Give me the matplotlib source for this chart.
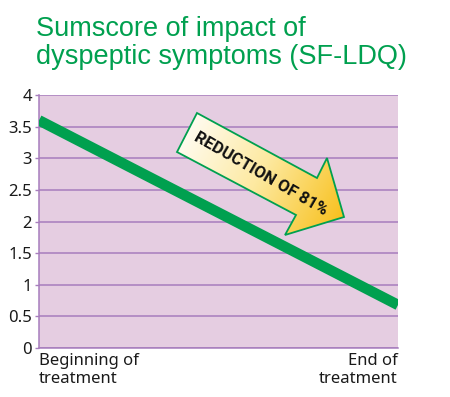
import numpy as np
import matplotlib
matplotlib.use("Agg")
import matplotlib.pyplot as plt
from matplotlib.patches import Polygon
from matplotlib.colors import LinearSegmentedColormap

# ---- data ----
categories = ["Beginning of\ntreatment", "End of\ntreatment"]
scores = [3.6, 0.68]
y_ticks = [0, 0.5, 1, 1.5, 2, 2.5, 3, 3.5, 4]
y_tick_labels = ["0", "0.5", "1", "1.5", "2", "2.5", "3", "3.5", "4"]
title = "Sumscore of impact of\ndyspeptic symptoms (SF-LDQ)"
arrow_label = "REDUCTION OF 81%"

GREEN = "#00a04f"
BG = "#e5cde1"
GRID = "#a77dbd"

fig = plt.figure(figsize=(4.5, 3.97), dpi=100)
ax = fig.add_axes([39/450, 1-348/397, 359/450, 253/397])
ax.set_facecolor(BG)

x = np.arange(len(categories))
ax.plot(x, scores, color=GREEN, lw=7.6, solid_capstyle="butt", zorder=3)

ax.set_xlim(0, 1)
ax.set_ylim(0, 4)
ax.set_yticks(y_ticks)
ax.set_yticklabels(y_tick_labels, fontsize=12, family=["Noto Sans", "DejaVu Sans"], color="#1a1a1a")
ax.yaxis.grid(True, color=GRID, lw=1.1)
ax.set_axisbelow(True)
ax.tick_params(axis="y", length=3, width=1, color=GRID, pad=2)
ax.tick_params(axis="x", length=0)
ax.set_xticks([])
for s in ["top", "right"]:
    ax.spines[s].set_visible(False)
ax.spines["left"].set_color(GRID)
ax.spines["bottom"].set_color(GRID)
ax.spines["left"].set_linewidth(1.1)
ax.spines["bottom"].set_linewidth(1.1)

# x category labels
lab_kw = dict(transform=ax.get_xaxis_transform(), va="top", fontsize=12,
              family=["Noto Sans", "DejaVu Sans"], color="#1a1a1a", linespacing=1.2)
ax.text(0, -0.018, categories[0], ha="left", **lab_kw)
ax.text(1, -0.018, categories[1], ha="right", multialignment="right", **lab_kw)

# title
fig.text(36/450, 1-16/397, title, ha="left", va="top", fontsize=19.5, color=GREEN,
         family=["Liberation Sans", "DejaVu Sans"], linespacing=1.12)

# ---- annotation arrow (axes fraction) ----
def px(xp, yp):
    return ((xp-39)/359, (348-yp)/253)

pts = [px(197, 113), px(317, 178), px(327, 158), px(344, 217), px(285, 235), px(296, 215), px(177, 152)]
poly = Polygon(pts, closed=True, transform=ax.transAxes, facecolor="none",
               edgecolor=GREEN, lw=1.3, zorder=6)
cmap = LinearSegmentedColormap.from_list("g", ["#ffffff", "#fde9a0", "#f7bd12"])
xs = np.array([p[0] for p in pts]); ys = np.array([p[1] for p in pts])
x0, x1, y0, y1 = xs.min(), xs.max(), ys.min(), ys.max()
gx, gy = np.meshgrid(np.linspace(0, 1, 200), np.linspace(0, 1, 200))
dxp, dyp = 157.0, 85.0
wpx, hpx = (x1-x0)*359, (y1-y0)*253
proj = (gx*wpx*dxp + gy*hpx*dyp)
proj = (proj - proj.min())/(proj.max()-proj.min())
im = ax.imshow(proj, cmap=cmap, extent=[x0, x1, y0, y1], origin="upper",
               transform=ax.transAxes, aspect="auto", zorder=5)
clip = Polygon(pts, closed=True, transform=ax.transAxes, facecolor="none", edgecolor="none")
ax.add_patch(clip)
im.set_clip_path(clip)
ax.add_patch(poly)
ax.set_xlim(0, 1); ax.set_ylim(0, 4)

cx, cy = px(261, 174)
ax.text(cx, cy, arrow_label, transform=ax.transAxes, rotation=-30, rotation_mode="anchor",
        ha="center", va="center", fontsize=12, fontweight="bold",
        family=["Roboto", "DejaVu Sans"], color="#111111", zorder=7)

fig.savefig("out.png", dpi=100)
